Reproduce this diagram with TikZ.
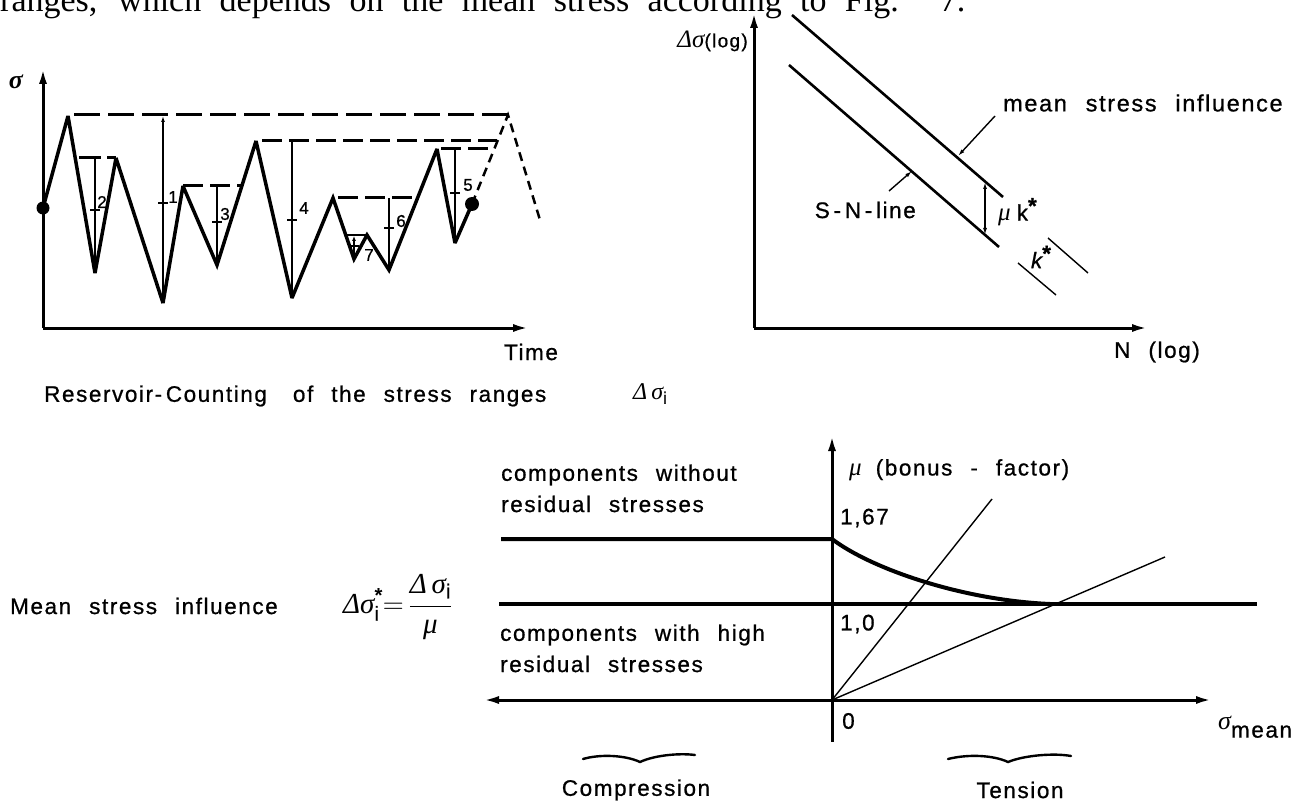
\documentclass[tikz,border=0pt]{standalone}
\usepackage{fix-cm}
\usepackage{amsmath}
\usepackage[no-math]{fontspec}
\setmainfont{Liberation Sans}
\newfontfamily\iso[LetterSpace=7,WordSpace=2.3,FakeBold=0.8]{Liberation Sans}
\newfontfamily\grk{Liberation Serif}
\newfontfamily\pagefont{Liberation Serif}
\usetikzlibrary{arrows.meta}
\begin{document}
\begin{tikzpicture}[x=1pt,y=-1pt,
  axis/.style={line width=3pt,-{Latex[length=16pt,width=8pt]}},
  dblaxis/.style={line width=3pt,{Latex[length=16pt,width=8pt]}-{Latex[length=16pt,width=8pt]}},
  stressline/.style={line width=3.5pt,line join=miter,miter limit=3},
  longdash/.style={line width=3pt,dash pattern=on 26pt off 8pt},
  middash/.style={line width=3pt,dash pattern=on 20pt off 7pt},
  contdash/.style={line width=2.5pt,dash pattern=on 9pt off 6pt},
  rangeline/.style={line width=1.2pt},
  tickmark/.style={line width=2pt},
  snline/.style={line width=2.6pt},
  thinline/.style={line width=1.4pt},
  curveline/.style={line width=4pt},
  levelline/.style={line width=3.2pt},
  leader/.style={line width=1.4pt,-{Latex[length=7pt,width=4pt]}},
  dimarrow/.style={line width=1.4pt,{Latex[length=7pt,width=4pt]}-{Latex[length=7pt,width=4pt]}},
  bracepath/.style={line width=2.4pt,line cap=round},
  lbl/.style={font=\iso\fontsize{22.5}{26}\selectfont,inner sep=0pt},
  num/.style={font=\iso\fontsize{17}{18}\selectfont,inner sep=0pt},
  greek/.style={font=\grk\itshape\fontsize{24}{27}\selectfont,inner sep=0pt}
]
\useasboundingbox (0,0) rectangle (1310,805);

% ---- cut-off page text at top ----
\begin{scope}
\clip (0,0) rectangle (1310,30);
\node[anchor=base west,inner sep=0pt,font=\pagefont\fontsize{34}{36}\selectfont] (pagetext) at (0,12)
  {\hbox to 965pt{ranges, which depends on the mean stress according to Fig. 7.}};
\end{scope}

% ================= left chart =================
\coordinate (lorig) at (43,328);
\coordinate (ltop) at (43,68);
\coordinate (lright) at (529,328);
\draw[axis] (lorig) -- (ltop);
\draw[axis] (lorig) -- (lright);
\node[font=\grk\bfseries\itshape\fontsize{26}{28}\selectfont,inner sep=0pt] (sig) at (16,82) {σ};
\node[lbl] (time) at (531,352) {Time};
\node[lbl,anchor=west] (caption) at (44,396) {Reservoir-\,Counting\hspace{8pt} of the stress ranges};
\node[greek,anchor=west] (capsym) at (633,394) {Δ\,σ\textsubscript{\upshape\iso i}};

\coordinate (s0) at (43,208);
\coordinate (p1) at (68,116);
\coordinate (v1) at (95,273);
\coordinate (p2) at (116,158);
\coordinate (v2) at (163,303);
\coordinate (p3) at (183,186);
\coordinate (v3) at (217,265);
\coordinate (p4) at (256,141);
\coordinate (v4) at (292,298);
\coordinate (p5) at (333,198);
\coordinate (v5) at (354,259);
\coordinate (p6) at (367,235);
\coordinate (v6) at (389,270);
\coordinate (p7) at (437,149);
\coordinate (v7) at (455,243);
\coordinate (s1) at (472,204);
\coordinate (pk) at (508,115);
\coordinate (de) at (540,220);

\draw[stressline] (s0) -- (p1) -- (v1) -- (p2) -- (v2) -- (p3) -- (v3) -- (p4) -- (v4)
  -- (p5) -- (v5) -- (p6) -- (v6) -- (p7) -- (v7) -- (s1);
\draw[contdash] (s1) -- (pk) -- (de);
\fill (s0) circle (6.5);
\fill (s1) circle (7);

% reservoir levels
\coordinate (t1) at (74,115);
\draw[longdash] (t1) -- (pk);
\coordinate (d2a) at (79,158);
\draw[middash,dash pattern=on 22pt off 6pt] (d2a) -- (p2);
\coordinate (d3b) at (242,186);
\draw[middash] (p3) -- (d3b);
\coordinate (d4a) at (262,141);
\coordinate (d4b) at (497,141);
\draw[middash] (d4a) -- (d4b);
\coordinate (d6a) at (338,198);
\coordinate (d6b) at (418,198);
\draw[middash] (d6a) -- (d6b);
\coordinate (d5a) at (441,149);
\coordinate (d5b) at (494,149);
\draw[middash] (d5a) -- (d5b);
\coordinate (d7a) at (347,235);
\draw[line width=2.2pt] (d7a) -- (p6);

% range lines with ticks
\foreach \nm/\x/\ya/\yb/\yt/\lx/\ly/\lab in {
  r2/95/158/273/210/102/202/2,
  r3/217/186/265/222/225/214/3,
  r4/292/141/298/220/304/208/4,
  r6/389/198/270/228/401/221/6,
  r5/455/149/243/193/468/185/5}{
  \coordinate (\nm a) at (\x,\ya);
  \coordinate (\nm b) at (\x,\yb);
  \coordinate (\nm c) at (\x-5,\yt);
  \coordinate (\nm d) at (\x+5,\yt);
  \draw[rangeline] (\nm a) -- (\nm b);
  \draw[tickmark] (\nm c) -- (\nm d);
  \node[num] (\nm lab) at (\lx,\ly) {\lab};
}
\coordinate (r1a) at (163,116);
\coordinate (r1b) at (163,303);
\coordinate (r1c) at (158,203);
\coordinate (r1d) at (168,203);
\draw[rangeline,{Latex[length=6pt,width=4pt]}-] (r1a) -- (r1b);
\draw[tickmark] (r1c) -- (r1d);
\node[num] (r1lab) at (173,197) {1};
\coordinate (r7a) at (354,236);
\coordinate (r7b) at (354,259);
\coordinate (r7c) at (349,246);
\coordinate (r7d) at (359,246);
\draw[rangeline,{Latex[length=5pt,width=4pt]}-] (r7a) -- (r7b);
\draw[tickmark] (r7c) -- (r7d);
\node[num] (r7lab) at (369,255) {7};

% ================= right chart (S-N) =================
\coordinate (rorig) at (754,328);
\coordinate (rtop) at (754,12);
\coordinate (rright) at (1148,328);
\draw[axis] (rorig) -- (rtop);
\draw[axis] (rorig) -- (rright);
\node[anchor=east,inner sep=0pt] (dslog) at (748,41) {{\grk\itshape\fontsize{25}{27}\selectfont Δσ}{\iso\fontsize{19}{22}\selectfont(log)}};
\node[lbl] (nlog) at (1157,352) {N (log)};

\coordinate (u0) at (792,15);
\coordinate (u1) at (1003,197);
\coordinate (l0) at (789,65);
\coordinate (l1) at (999,247);
\draw[snline] (u0) -- (u1);
\draw[snline] (l0) -- (l1);

\coordinate (mua) at (985,182);
\coordinate (mub) at (985,235);
\draw[dimarrow] (mua) -- (mub);
\node[anchor=west,inner sep=0pt] (muk) at (998,212) {{\grk\itshape\fontsize{25}{27}\selectfont μ}\hspace{6pt}{\iso\fontsize{22.5}{26}\selectfont k\raisebox{7pt}{\bfseries *}}};

\coordinate (k1a) at (1018,263);
\coordinate (k1b) at (1056,295);
\coordinate (k2a) at (1048,238);
\coordinate (k2b) at (1088,273);
\draw[thinline] (k1a) -- (k1b);
\draw[thinline] (k2a) -- (k2b);
\node[lbl] (kstar) at (1041,257) {\itshape k\raisebox{7pt}{\bfseries\upshape *}};

\node[lbl,anchor=west,font=\iso\fontsize{23.5}{26}\selectfont] (msi) at (1003,103) {mean stress influence};
\coordinate (msia) at (995,116);
\coordinate (msib) at (958,156);
\draw[leader] (msia) -- (msib);

\node[lbl,anchor=east] (snl) at (916,210) {S\,-\,N\,-\,line};
\coordinate (snla) at (889,191);
\coordinate (snlb) at (912,171);
\draw[leader] (snla) -- (snlb);

% ================= bottom chart =================
\coordinate (o) at (832,700);
\coordinate (mubot) at (832,742);
\coordinate (mutop) at (832,435);
\coordinate (sl) at (483,700);
\coordinate (sr) at (1212,700);
\draw[line width=3pt] (o) -- (mubot);
\draw[axis] (o) -- (mutop);
\draw[dblaxis] (sl) -- (sr);

\coordinate (h67a) at (501,539);
\coordinate (h67b) at (832,539);
\coordinate (cend) at (1050,604);
\draw[curveline] (h67a) -- (h67b) .. controls (870,568) and (960,600) .. (cend);
\coordinate (h10a) at (499,604);
\coordinate (h10b) at (1257,604);
\draw[levelline] (h10a) -- (h10b);

\coordinate (ta) at (992,499);
\coordinate (tb) at (1165,557);
\draw[thinline] (o) -- (ta);
\draw[thinline] (o) -- (tb);

\node[lbl,anchor=west] (bonus) at (849,470) {{\grk\itshape\fontsize{25}{27}\selectfont μ}\hspace{14pt}(bonus - factor)};
\node[lbl,anchor=west] (v167) at (840,518) {1,67};
\node[lbl,anchor=west] (v10) at (840,624) {1,0};
\node[lbl,anchor=west] (v0) at (842,721) {0};
\node[anchor=west,inner sep=0pt] (smean) at (1218,727) {{\grk\itshape\fontsize{26}{28}\selectfont σ}\raisebox{-8pt}{\iso\fontsize{22.5}{26}\selectfont mean}};

\node[lbl,anchor=west] (cw1) at (501,475) {components without};
\node[lbl,anchor=west] (cw2) at (501,504) {residual stresses};
\node[lbl,anchor=west] (ch1) at (500,635) {components with high};
\node[lbl,anchor=west] (ch2) at (500,664) {residual stresses};

\node[lbl,anchor=west] (msitext) at (10,606) {Mean stress influence};
\node[anchor=west,inner sep=0pt] (formula) at (343,607) {\fontsize{29}{32}\selectfont
  $\text{\grk\itshape Δσ}^{\text{\bfseries *}}_{\text{\iso\upshape i}}{=}\,\dfrac{\text{\grk\itshape Δ\,σ}_{\text{\iso\upshape i}}}{\text{\grk\itshape μ}}$};

\coordinate (ba1) at (583,759);
\coordinate (bm1) at (640,762);
\coordinate (bb1) at (695,755);
\draw[bracepath] (ba1) .. controls (600,754) and (625,755) .. (bm1) .. controls (655,755) and (680,753) .. (bb1);
\coordinate (ba2) at (948,759);
\coordinate (bm2) at (1008,762);
\coordinate (bb2) at (1071,756);
\draw[bracepath] (ba2) .. controls (968,754) and (993,755) .. (bm2) .. controls (1025,755) and (1055,753) .. (bb2);
\node[lbl] (comp) at (636,790) {Compression};
\node[lbl] (tens) at (1020,790) {Tension};

\end{tikzpicture}
\end{document}
